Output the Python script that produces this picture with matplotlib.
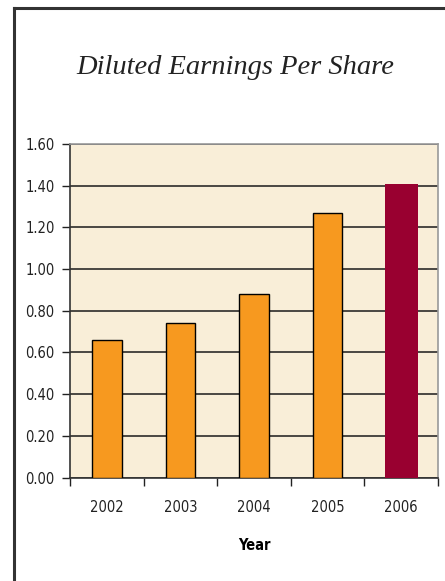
import matplotlib
matplotlib.use('Agg')
import matplotlib.pyplot as plt
from matplotlib.lines import Line2D

years = ['2002', '2003', '2004', '2005', '2006']
eps = [0.66, 0.74, 0.88, 1.27, 1.41]
bar_colors = ['#F7991F', '#F7991F', '#F7991F', '#F7991F', '#990030']
yticks = [0.0, 0.2, 0.4, 0.6, 0.8, 1.0, 1.2, 1.4, 1.6]

W, H = 445, 581
fig = plt.figure(figsize=(W / 100, H / 100), dpi=100)
fig.patch.set_facecolor('white')

# box frame along the top and left edge
fig.add_artist(Line2D([14 / W, 14 / W], [0, 1 - 8 / H], color='#333333', lw=2.2,
                      transform=fig.transFigure))
fig.add_artist(Line2D([14 / W, 1], [1 - 8 / H, 1 - 8 / H], color='#333333', lw=2.2,
                      transform=fig.transFigure))

fig.text(235 / W, 1 - 68 / H, 'Diluted Earnings Per Share', ha='center', va='center',
         fontsize=20.5, style='italic', family=['Liberation Serif', 'DejaVu Serif'],
         color='#222222')

ax = fig.add_axes([70 / W, 103.5 / H, 368 / W, 333.5 / H])
ax.set_facecolor('#F9EED8')

x = range(len(years))
for i in x:
    if i == len(years) - 1:
        ax.bar(i, eps[i], width=0.45, color=bar_colors[i], edgecolor='none', zorder=3)
    else:
        ax.bar(i, eps[i], width=0.4, color=bar_colors[i], edgecolor='black',
               linewidth=1.0, zorder=3)

ax.set_xlim(-0.5, len(years) - 0.5)
ax.set_ylim(0, 1.6)
ax.set_yticks(yticks)
ax.set_yticklabels([f'{v:.2f}' for v in yticks])
ax.yaxis.grid(True, color='#1a1a1a', linewidth=1.1, zorder=1)
ax.set_axisbelow(True)

ax.set_xticks([i - 0.5 for i in range(len(years) + 1)], minor=False)
ax.set_xticklabels([])
ax.set_xticks(list(x), minor=True)
ax.set_xticklabels(years, minor=True)
ax.tick_params(axis='x', which='minor', length=0, pad=16)
ax.tick_params(axis='x', which='major', length=6, width=1, color='#222222')
ax.tick_params(axis='y', length=6, width=1, color='#222222', pad=5)

for lab in ax.get_yticklabels() + ax.get_xticklabels(minor=True):
    lab.set_family('DejaVu Sans')
    lab.set_stretch('condensed')
    lab.set_fontsize(10.5)
    lab.set_color('#222222')

ax.set_xlabel('Year', fontsize=10.5, fontweight='bold', family='DejaVu Sans',
              fontstretch='condensed', labelpad=17)

for side in ['left', 'bottom']:
    ax.spines[side].set_color('#333333')
    ax.spines[side].set_linewidth(1.2)
for side in ['top', 'right']:
    ax.spines[side].set_color('#999999')
    ax.spines[side].set_linewidth(1.2)

plt.savefig('out.png', dpi=100)
